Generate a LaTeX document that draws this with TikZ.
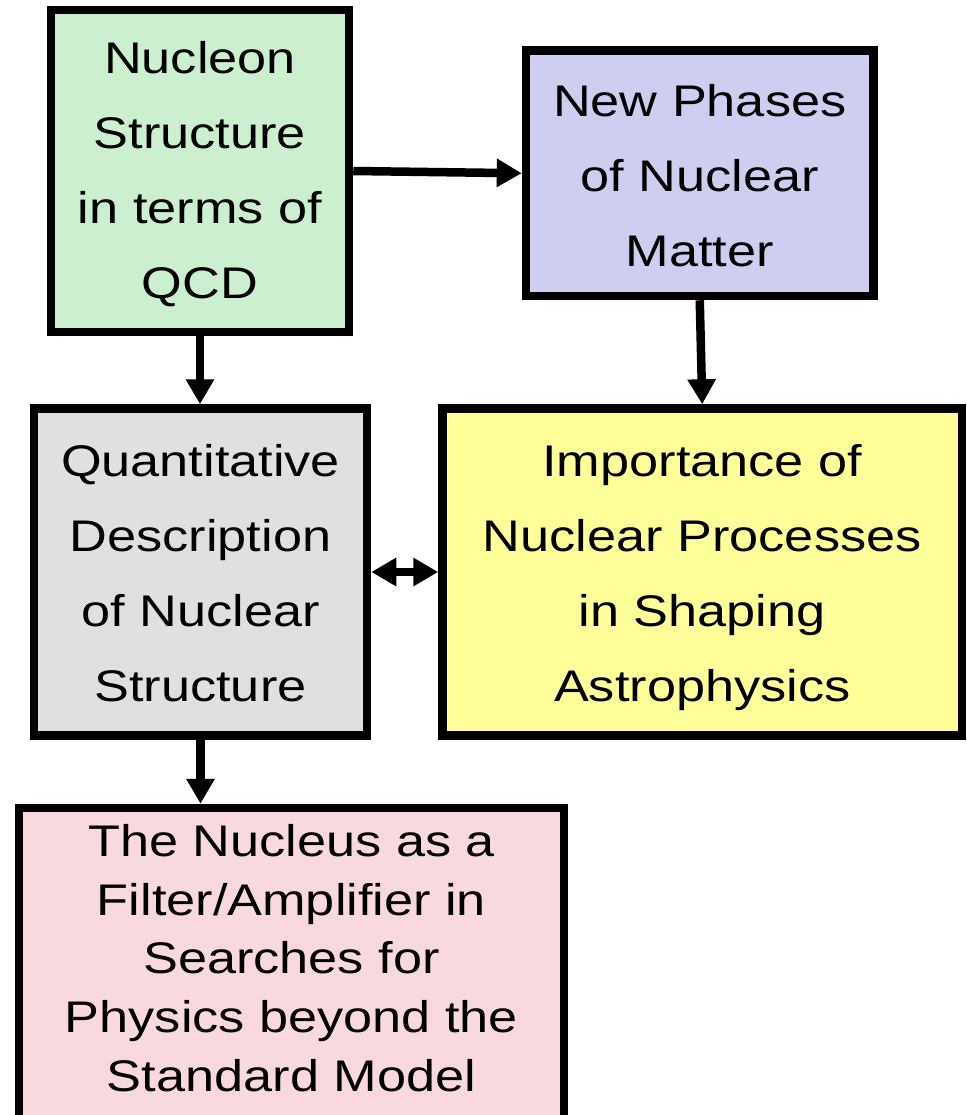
\documentclass[tikz,border=0pt]{standalone}
\usepackage{fontspec}
\setmainfont{Liberation Sans}[FakeStretch=1.18]
\usetikzlibrary{arrows.meta,calc}
\definecolor{boxgreen}{RGB}{204,239,208}
\definecolor{boxblue}{RGB}{206,206,240}
\definecolor{boxgrey}{RGB}{224,224,224}
\definecolor{boxyellow}{RGB}{255,255,153}
\definecolor{boxpink}{RGB}{248,218,222}
\tikzset{
  box/.style={draw=black, line width=8.5pt, rectangle, inner sep=0pt},
  txt/.style={align=center, inner sep=0pt, font=\fontsize{44.3}{75}\selectfont},
  ptxt/.style={align=center, inner sep=0pt, font=\fontsize{44.3}{58.75}\selectfont},
  conn/.style={line width=8.5pt, -{Triangle[length=25pt,width=27pt]}},
  dconn/.style={line width=8.5pt, {Triangle[length=25pt,width=27pt]}-{Triangle[length=25pt,width=27pt]}}
}
\begin{document}
\begin{tikzpicture}[x=1pt,y=1pt]
\useasboundingbox (0,0) rectangle (966,-1115);
\node[box, fill=boxgreen, minimum width=298pt, minimum height=322pt] (green) at (200,-171) {};
\node[txt] (greentext) at (200,-174.6) {Nucleon\\Structure\\in terms of\\QCD};
\node[box, fill=boxblue, minimum width=347.5pt, minimum height=245.5pt] (blue) at (699.75,-173.25) {};
\node[txt] (bluetext) at (699.75,-176.1) {New Phases\\of Nuclear\\Matter};
\node[box, fill=boxgrey, minimum width=333pt, minimum height=327pt] (grey) at (200.5,-572) {};
\node[txt] (greytext) at (200.5,-573.4) {Quantitative\\Description\\of Nuclear\\Structure};
\node[box, fill=boxyellow, minimum width=519.5pt, minimum height=327pt] (yellow) at (702.25,-572) {};
\node[txt] (yellowtext) at (702.25,-577.7) {Importance of\\Nuclear Processes\\in Shaping\\Astrophysics};
\node[box, fill=boxpink, minimum width=545pt, minimum height=320pt] (pink) at (291.5,-968) {};
\node[ptxt] (pinktext) at (291.5,-958)
  {The Nucleus as a\\Filter/Amplifier in\\Searches for\\Physics beyond the\\Standard Model};
\draw[conn] (green.east) -- (blue.west);
\draw[conn] (green.south) -- (green.south |- grey.north);
\draw[conn] (blue.south) -- (yellow.north);
\draw[dconn] (grey.east) -- (yellow.west);
\draw[conn] (grey.south) -- (grey.south |- pink.north);
\end{tikzpicture}
\end{document}
